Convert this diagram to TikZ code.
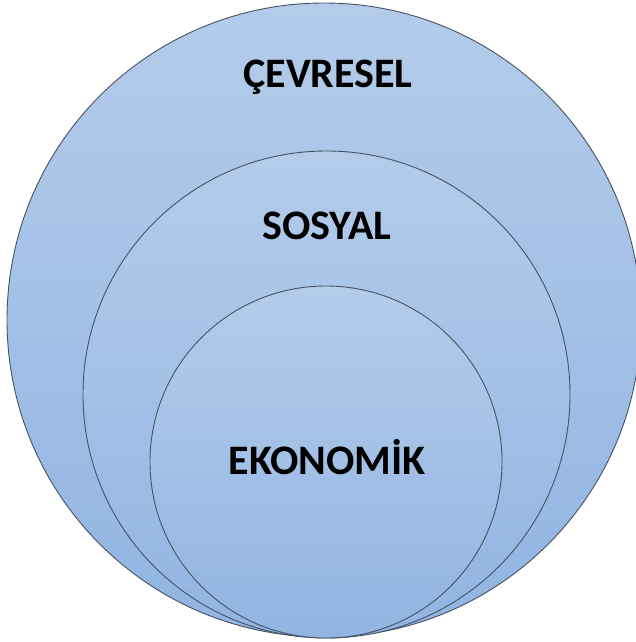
\documentclass[tikz,border=0pt]{standalone}
\usepackage{fontspec}
\setmainfont{Carlito}
\usetikzlibrary{positioning}
\definecolor{ringtop}{RGB}{180,204,234}
\definecolor{ringbot}{RGB}{145,180,226}
\definecolor{ringline}{RGB}{70,82,100}

\begin{document}
\begin{tikzpicture}[x=1pt, y=-1pt, font=\fontsize{42}{46}\selectfont\bfseries,
  ring/.style={circle, draw=ringline, line width=0.9pt, top color=ringtop, bottom color=ringbot, inner sep=0pt}]
\useasboundingbox (0,0) rectangle (635,642);
\node[ring, minimum size=634pt] (cevre) at (324,320) {};
\node[ring, minimum size=487pt] (sosyal) at (326.5,394.5) {};
\node[ring, minimum size=352pt] (ekonomi) at (326,462) {};
\node (cevretxt) at (328,77) {ÇEVRESEL};
\node (sosyaltxt) at (327,226) {SOSYAL};
\node (ekonomitxt) at (327,457) {EKONOMİK};
\end{tikzpicture}
\end{document}
